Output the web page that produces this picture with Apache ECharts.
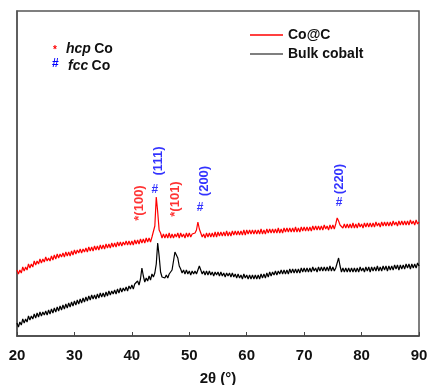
<!DOCTYPE html>
<html>
<head>
<meta charset="utf-8">
<script src="https://cdn.jsdelivr.net/npm/echarts@6/dist/echarts.min.js"></script>
<style>
	html, body { margin: 0; padding: 0; background: #fff; }
	#chart { width: 429px; height: 385px; }
</style>
</head>
<body>
<div id="chart"></div>
<script>
	// 2theta grid, 20..90 step 0.25
	let twoTheta = [];
	for (let i = 0; i <= 280; i++) {
		twoTheta.push(20 + i * 0.25);
	}

	// Co@C (red), 4 points per degree
	let coC = [
		66, 62, 66, 63, 69, 65, 69, 66, 72, 68, 72, 69, 75, 71, 75, 72, 77, 73, 77, 74,
		79, 75, 78, 75, 80, 76, 81, 77, 82, 78, 82, 79, 83, 79, 84, 80, 84, 80, 85, 81,
		86, 82, 86, 83, 87, 83, 87, 84, 88, 84, 89, 85, 89, 85, 90, 86, 90, 86, 91, 87,
		91, 87, 92, 88, 92, 88, 93, 89, 93, 89, 94, 90, 94, 90, 94, 91, 95, 91, 95, 91,
		95, 91, 96, 92, 96, 92, 97, 93, 97, 93, 98, 94, 98, 94, 99, 97, 110, 139, 124, 106,
		103, 98, 102, 98, 102, 98, 103, 98, 102, 98, 102, 99, 103, 98, 103, 99, 102, 98, 103, 99,
		103, 99, 102, 100, 103, 106, 114, 107, 103, 99, 102, 98, 103, 99, 103, 99, 103, 99, 104, 99,
		104, 100, 104, 100, 104, 100, 105, 100, 104, 100, 105, 101, 105, 101, 105, 101, 105, 101, 106, 101,
		106, 102, 106, 102, 106, 102, 106, 102, 106, 102, 107, 102, 106, 102, 107, 103, 107, 103, 107, 103,
		107, 103, 108, 103, 107, 103, 108, 104, 108, 104, 108, 104, 108, 104, 109, 104, 108, 104, 109, 105,
		109, 105, 109, 105, 109, 105, 110, 106, 110, 106, 110, 106, 110, 106, 111, 107, 110, 106, 111, 107,
		111, 107, 112, 118, 115, 111, 112, 108, 112, 108, 112, 108, 112, 108, 113, 108, 112, 108, 113, 109,
		112, 108, 113, 109, 113, 109, 113, 109, 113, 109, 114, 110, 113, 109, 114, 110, 114, 110, 114, 110,
		114, 110, 115, 111, 114, 110, 115, 111, 115, 111, 115, 111, 115, 111, 116, 112, 115, 111, 116, 112,
		114
	];

	// Bulk cobalt (black)
	let bulk = [
		13, 9, 14, 11, 17, 13, 17, 14, 20, 16, 20, 17, 22, 18, 23, 19, 24, 20, 24, 21,
		25, 21, 26, 22, 27, 23, 28, 24, 29, 25, 30, 26, 31, 27, 32, 28, 33, 29, 34, 30,
		35, 31, 36, 32, 37, 33, 38, 34, 39, 35, 40, 36, 41, 37, 41, 37, 42, 38, 43, 39,
		43, 39, 44, 40, 45, 41, 45, 42, 46, 42, 47, 43, 48, 44, 48, 45, 49, 45, 50, 47,
		51, 47, 52, 50, 55, 51, 57, 68, 60, 54, 58, 55, 60, 56, 62, 59, 63, 72, 93, 80,
		64, 59, 61, 58, 61, 58, 62, 63, 66, 75, 84, 86, 78, 70, 67, 63, 66, 62, 66, 62,
		65, 61, 65, 62, 65, 62, 66, 70, 66, 62, 65, 61, 65, 61, 65, 61, 64, 60, 64, 61,
		64, 60, 64, 60, 63, 59, 63, 60, 63, 59, 63, 59, 62, 58, 62, 58, 61, 57, 62, 58,
		61, 57, 61, 57, 61, 57, 61, 57, 61, 57, 62, 58, 62, 58, 63, 59, 64, 60, 64, 61,
		65, 61, 65, 62, 66, 62, 66, 62, 66, 62, 67, 63, 67, 63, 67, 63, 67, 63, 68, 64,
		68, 64, 68, 64, 68, 64, 69, 65, 68, 64, 69, 65, 69, 65, 69, 65, 69, 65, 70, 65,
		69, 65, 68, 70, 78, 70, 64, 68, 64, 68, 64, 68, 64, 68, 64, 68, 64, 68, 64, 69,
		65, 68, 64, 69, 65, 69, 64, 69, 65, 69, 65, 70, 65, 69, 65, 70, 66, 70, 65, 70,
		66, 70, 66, 71, 67, 71, 66, 71, 67, 71, 67, 72, 68, 72, 67, 72, 68, 72, 68, 73,
		70
	];

	let xTicks = [20, 30, 40, 50, 60, 70, 80, 90];

	// peak labels: text, 2theta, y position, colour
	let peakText = ['*(100)', '#', '(111)', '*(101)', '#', '(200)', '#', '(220)'];
	let peakX = [41.4, 44.0, 44.55, 47.5, 51.9, 52.6, 76.1, 76.2];
	let peakY = [133, 146, 175, 137, 128, 155, 133, 157];
	let peakColor = ['#ff0000', '#0000ff', '#0000ff', '#ff0000', '#0000ff', '#0000ff', '#0000ff', '#0000ff'];

	function pairs(ys) {
		return ys.map((y, i) => [twoTheta[i], y]);
	}

	let labelData = peakText.map((t, i) => ({
		value: [peakX[i], peakY[i]],
		label: {
			show: true,
			position: 'inside',
			formatter: t,
			rotate: t === '#' ? 0 : 90,
			color: peakColor[i],
			fontFamily: 'Liberation Sans',
			fontWeight: 'bold',
			fontSize: t === '#' ? 12 : 13
		}
	}));

	let font = 'Liberation Sans';

	let option = {
		animation: false,
		backgroundColor: '#fff',
		grid: {
			left: 17,
			right: 10,
			top: 11,
			bottom: 49,
			outerBoundsMode: 'none',
			show: true,
			borderColor: '#555',
			borderWidth: 1.5
		},
		legend: {
			data: ['Co@C', {
				name: 'Bulk cobalt',
				itemStyle: {
					color: '#555'
				}
			}],
			orient: 'vertical',
			left: 250,
			top: 28,
			padding: 0,
			icon: 'rect',
			itemWidth: 33,
			itemHeight: 1.5,
			itemGap: 5,
			textStyle: {
				fontFamily: font,
				fontWeight: 'bold',
				fontSize: 14,
				color: '#111'
			}
		},
		xAxis: {
			type: 'value',
			min: 20,
			max: 90,
			interval: 10,
			name: '2θ (°)',
			nameLocation: 'middle',
			nameGap: 35,
			nameTextStyle: {
				fontFamily: font,
				fontWeight: 'bold',
				fontSize: 15,
				color: '#111'
			},
			axisLine: {
				lineStyle: {
					color: '#444',
					width: 1.5
				}
			},
			axisTick: {
				inside: true,
				length: 4,
				lineStyle: {
					color: '#444'
				}
			},
			axisLabel: {
				margin: 12,
				fontFamily: font,
				fontWeight: 'bold',
				fontSize: 15,
				color: '#111',
				customValues: xTicks
			},
			splitLine: {
				show: false
			}
		},
		yAxis: {
			type: 'value',
			min: 0,
			max: 325,
			axisLine: {
				show: true,
				lineStyle: {
					color: '#555',
					width: 1.5
				}
			},
			axisTick: {
				show: false
			},
			axisLabel: {
				show: false
			},
			splitLine: {
				show: false
			}
		},
		graphic: [{
			type: 'text',
			left: 53,
			top: 45,
			style: {
				text: '*',
				fill: '#ff0000',
				font: 'bold 10px Liberation Sans'
			}
		}, {
			type: 'text',
			left: 66,
			top: 42,
			style: {
				text: '{i|hcp} {n|Co}',
				rich: {
					i: {
						fontFamily: font,
						fontStyle: 'italic',
						fontWeight: 'bold',
						fontSize: 14,
						fill: '#111'
					},
					n: {
						fontFamily: font,
						fontWeight: 'bold',
						fontSize: 14,
						fill: '#111'
					}
				}
			}
		}, {
			type: 'text',
			left: 52,
			top: 58,
			style: {
				text: '#',
				fill: '#0000ff',
				font: 'bold 12px Liberation Sans'
			}
		}, {
			type: 'text',
			left: 68,
			top: 59,
			style: {
				text: '{i|fcc} {n|Co}',
				rich: {
					i: {
						fontFamily: font,
						fontStyle: 'italic',
						fontWeight: 'bold',
						fontSize: 14,
						fill: '#111'
					},
					n: {
						fontFamily: font,
						fontWeight: 'bold',
						fontSize: 14,
						fill: '#111'
					}
				}
			}
		}],
		series: [{
			name: 'Co@C',
			type: 'line',
			showSymbol: false,
			data: pairs(coC),
			lineStyle: {
				color: '#ff0000',
				width: 1.2
			},
			itemStyle: {
				color: '#ff0000'
			}
		}, {
			name: 'Bulk cobalt',
			type: 'line',
			showSymbol: false,
			data: pairs(bulk),
			lineStyle: {
				color: '#000',
				width: 1.2
			},
			itemStyle: {
				color: '#000'
			}
		}, {
			name: 'peaks',
			type: 'scatter',
			symbolSize: 0,
			silent: true,
			data: labelData
		}]
	};

	let chart = echarts.init(document.getElementById('chart'));
	chart.setOption(option);
	window.addEventListener('resize', function() {
		chart.resize();
	});
</script>
</body>
</html>
